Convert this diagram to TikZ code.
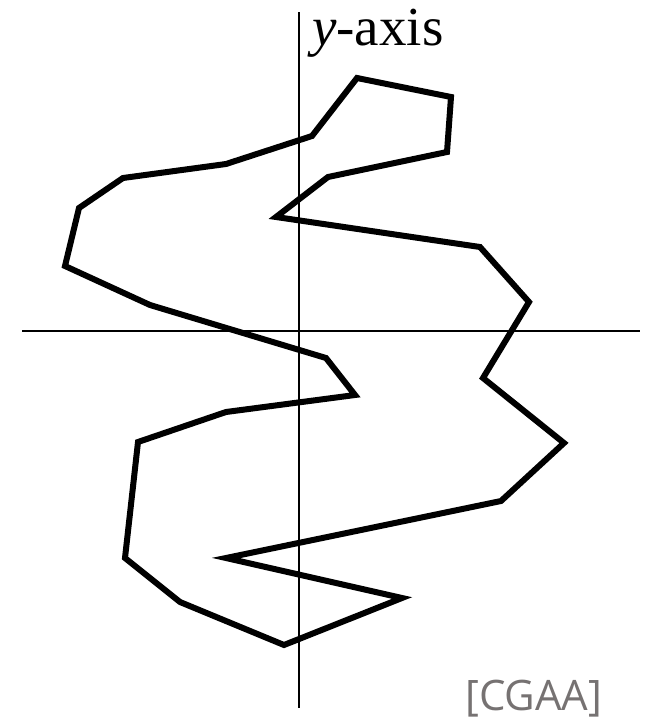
\documentclass[tikz,border=0pt]{standalone}
\usepackage{fontspec}
\setmainfont{Liberation Serif}
\newfontfamily\srcfont{Open Sans}
\usepackage{xcolor}
\definecolor{srcgray}{RGB}{118,114,114}
\tikzset{
  axisline/.style={line width=2pt},
  polyline/.style={line width=6pt, line join=miter},
  axlab/.style={font=\fontsize{55}{60}\selectfont, inner sep=0pt},
  srclab/.style={font=\srcfont\fontsize{42}{46}\selectfont, text=srcgray, inner sep=0pt},
}

\begin{document}
\begin{tikzpicture}[x=1pt,y=-1pt]
  \useasboundingbox (0,0) rectangle (659,720);
  % axes
  \coordinate (ytop) at (299,12);
  \coordinate (ybot) at (299,708);
  \coordinate (xleft) at (22,331);
  \coordinate (xright) at (640,331);
  \draw[axisline] (ytop) -- (ybot);
  \draw[axisline] (xleft) -- (xright);
  \node[axlab, anchor=base west] (ylab) at (312,45) {\textit{y}-axis};
  % the polygon
  \draw[polyline] (357,78) -- (451,97) -- (447,152) -- (328,177) -- (276,217)
    -- (480,247) -- (529,302) -- (483,378) -- (564,443) -- (501,501)
    -- (226,558) -- (402,598) -- (284,645) -- (180,602) -- (125,558)
    -- (138,442) -- (226,412) -- (355,395) -- (326,358) -- (150,305)
    -- (65,266) -- (79,208) -- (123,178) -- (226,164) -- (312,136) -- cycle;
  \node[srclab, anchor=base west] (src) at (465,710) {[CGAA]};
\end{tikzpicture}
\end{document}
